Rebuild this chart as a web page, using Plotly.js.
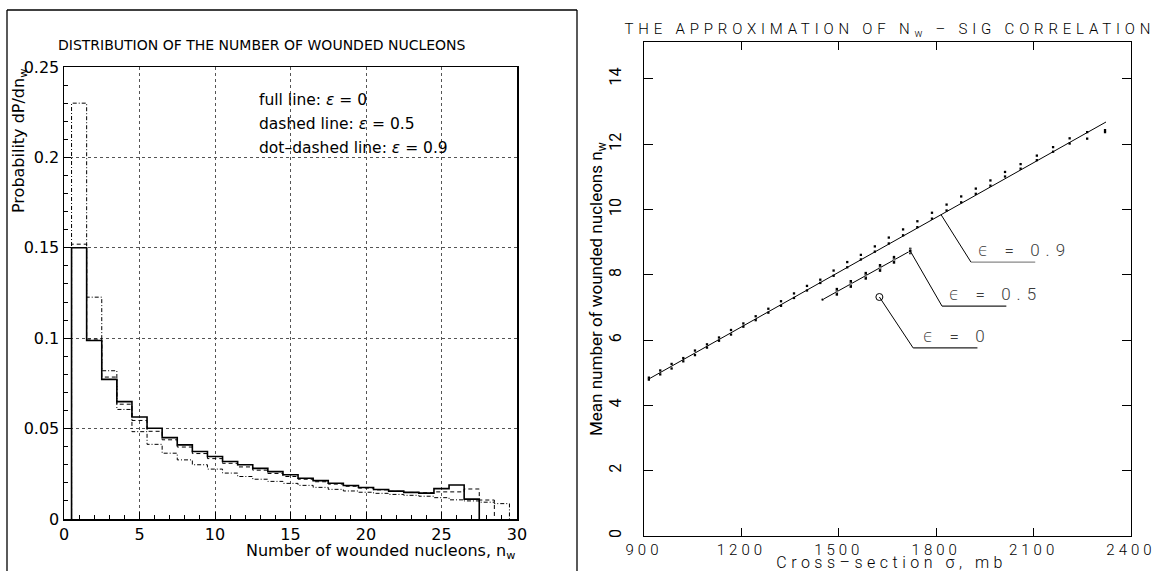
<!DOCTYPE html>
<html><head><meta charset="utf-8">
<script src="https://cdn.plot.ly/plotly-3.0.1.min.js"></script>
<style>
body{margin:0;background:#fff}
#chart{width:1155px;height:571px}
.annotation[data-index="1"] text{letter-spacing:4.8px}
.annotation[data-index="8"] text{letter-spacing:4.5px}
.annotation[data-index="9"] text,.annotation[data-index="10"] text,.annotation[data-index="11"] text{letter-spacing:6px}
.x2tick text{letter-spacing:4px}
</style>
</head><body><div id="chart"></div>
<script>
// ---------- Left panel: histogram of number of wounded nucleons ----------
const nBins = [1,2,3,4,5,6,7,8,9,10,11,12,13,14,15,16,17,18,19,20,21,22,23,24,25,26,27,28,29];
const probEps0 = [0.150,0.0987,0.0772,0.0649,0.0564,0.0502,0.0450,0.0410,0.0373,0.0346,0.0318,0.0300,0.0280,0.0262,0.0245,0.0225,0.0212,0.0198,0.0185,0.0174,0.0163,0.0154,0.0147,0.0143,0.0168,0.0188,0.0110];
const probEps05 = [0.152,0.0995,0.0785,0.0635,0.0545,0.0485,0.0438,0.0398,0.0362,0.0334,0.0308,0.0288,0.0270,0.0252,0.0235,0.0220,0.0206,0.0193,0.0181,0.0171,0.0161,0.0153,0.0147,0.0145,0.0150,0.0150,0.0166,0.0105];
const probEps09 = [0.230,0.1227,0.0820,0.0606,0.0483,0.0413,0.0364,0.0327,0.0300,0.0276,0.0254,0.0235,0.0220,0.0208,0.0197,0.0186,0.0175,0.0164,0.0155,0.0148,0.0142,0.0136,0.0131,0.0126,0.0118,0.0106,0.0100,0.0093,0.0085];
const xTickVals1 = [0,5,10,15,20,25,30];
const yTickVals1 = [0,0.05,0.1,0.15,0.2,0.25];
const yTickText1 = ['0','0.05','0.1','0.15','0.2','0.25'];

// ---------- Right panel: N_w vs cross-section ----------
const sigEps09 = [915,950,985,1021,1057,1094,1131,1168,1206,1244,1283,1322,1362,1402,1443,1484,1526,1568,1611,1654,1698,1742,1787,1832,1877,1922,1967,2012,2060,2110,2160,2211,2265,2320];
const nwEps09  = [4.82,5.01,5.20,5.40,5.61,5.82,6.03,6.24,6.46,6.67,6.90,7.12,7.36,7.59,7.80,8.05,8.31,8.54,8.79,9.05,9.30,9.55,9.81,10.06,10.31,10.56,10.81,11.08,11.32,11.58,11.84,12.10,12.27,12.40];
const errEps09 = [0.03,0.06,0.07,0.05,0.07,0.05,0.05,0.07,0.05,0.06,0.06,0.07,0.07,0.07,0.05,0.08,0.08,0.07,0.08,0.09,0.09,0.09,0.09,0.09,0.09,0.08,0.08,0.07,0.07,0.07,0.07,0.08,0.10,0.03];
const fitEps09Sig = [915,2323];
const fitEps09Nw  = [4.81,12.68];

const sigEps05 = [1450,1494,1537,1583,1627,1670,1720];
const nwEps05  = [7.24,7.48,7.72,7.97,8.21,8.46,8.73];
const errEps05 = [0.03,0.12,0.12,0.12,0.12,0.12,0.10];
const fitEps05Sig = [1450,1720];
const fitEps05Nw  = [7.24,8.73];

const sigEps0 = [1625];
const nwEps0  = [7.32];

const xTickVals2 = [900,1200,1500,1800,2100,2400];
const yTickVals2 = [0,2,4,6,8,10,12,14];

// ---------- helpers ----------
const W = 1155, H = 571;
const px = v => v / W;
const py = v => 1 - v / H;

function stepXY(vals){
  const x=[nBins[0]-0.5], y=[0];
  vals.forEach((v,i)=>{ x.push(nBins[i]-0.5); y.push(v); });
  x.push(nBins[vals.length-1]+0.5); y.push(0);
  return {x,y};
}
function fitAt(sig){
  return fitEps09Nw[0] + (sig-fitEps09Sig[0])*(fitEps09Nw[1]-fitEps09Nw[0])/(fitEps09Sig[1]-fitEps09Sig[0]);
}

const h0 = stepXY(probEps0), h05 = stepXY(probEps05), h09 = stepXY(probEps09);

const traces = [
  {x:h09.x, y:h09.y, xaxis:'x', yaxis:'y', mode:'lines', line:{shape:'hv', color:'#000', width:1, dash:'1px,2px,4px,2px'}, hoverinfo:'skip'},
  {x:h05.x, y:h05.y, xaxis:'x', yaxis:'y', mode:'lines', line:{shape:'hv', color:'#000', width:1, dash:'4px,3px'}, hoverinfo:'skip'},
  {x:h0.x,  y:h0.y,  xaxis:'x', yaxis:'y', mode:'lines', line:{shape:'hv', color:'#000', width:1.6}, hoverinfo:'skip'},

  {x:fitEps09Sig, y:fitEps09Nw, xaxis:'x2', yaxis:'y2', mode:'lines', line:{color:'#000', width:1}, hoverinfo:'skip'},
  {x:sigEps09, y:nwEps09.map((v,i)=>v+errEps09[i]), xaxis:'x2', yaxis:'y2', mode:'markers', marker:{symbol:'square', size:2.3, color:'#000'}, hoverinfo:'skip'},
  {x:sigEps09, y:nwEps09.map((v,i)=>v-errEps09[i]), xaxis:'x2', yaxis:'y2', mode:'markers', marker:{symbol:'square', size:2.3, color:'#000'}, hoverinfo:'skip'},
  {x:fitEps05Sig, y:fitEps05Nw, xaxis:'x2', yaxis:'y2', mode:'lines', line:{color:'#000', width:1}, hoverinfo:'skip'},
  {x:sigEps05, y:nwEps05, xaxis:'x2', yaxis:'y2', mode:'markers', marker:{size:[3,2,2,2,2,2,4], color:'#000'},
   error_y:{type:'data', array:errEps05, visible:true, thickness:2.4, width:0, color:'#000'}, hoverinfo:'skip'},
  {x:sigEps0, y:nwEps0, xaxis:'x2', yaxis:'y2', mode:'markers', marker:{symbol:'circle-open', size:7, color:'#000', line:{width:1}}, hoverinfo:'skip'}
];

// leader lines for the epsilon labels (anchored on data)
const leaders = [
  {ax:1815, ay:fitAt(1815), text:'ϵ = 0.9', color:'#888', dl:157},
  {ax:sigEps05[sigEps05.length-1], ay:nwEps05[nwEps05.length-1], text:'ϵ = 0.5', color:'#222', dl:157},
  {ax:sigEps0[0], ay:nwEps0[0], text:'ϵ = 0', color:'#222', dl:125}
];
const elbowOff = [[92,-1.45],[98,-1.69],[104,-1.56]];
const labelAnn = [];
leaders.forEach((L,i)=>{
  const ex = L.ax + elbowOff[i][0], ey = L.ay + elbowOff[i][1];
  traces.push({x:[L.ax, ex], y:[L.ay, ey], xaxis:'x2', yaxis:'y2', mode:'lines', line:{color:'#000', width:1}, hoverinfo:'skip'});
  traces.push({x:[ex, ex+198], y:[ey, ey], xaxis:'x2', yaxis:'y2', mode:'lines', line:{color:L.color, width:1.2}, hoverinfo:'skip'});
  labelAnn.push({xref:'x2', yref:'y2', x:ex+L.dl+9, y:ey+0.36, xanchor:'center', yanchor:'middle', text:L.text, showarrow:false,
    font:{family:'Roboto, DejaVu Sans', size:17, color:'#3a3a3a', weight:300}});
});

const leftFont = 'DejaVu Sans, Liberation Sans, sans-serif';
const rightFont = 'Roboto, Liberation Sans, sans-serif';

const annotations = [
  {xref:'paper', yref:'paper', x:px(262), y:py(45), text:'DISTRIBUTION OF THE NUMBER OF WOUNDED NUCLEONS', showarrow:false, xanchor:'center', yanchor:'middle', font:{family:leftFont, size:14, color:'#000'}},
  {xref:'paper', yref:'paper', x:px(890), y:py(30), text:'THE APPROXIMATION OF N<sub>w</sub> – SIG CORRELATION', showarrow:false, xanchor:'center', yanchor:'middle', font:{family:rightFont, size:15, color:'#000', weight:300}},
  {xref:'paper', yref:'paper', x:px(257), y:py(100), text:'full line: <i>ε</i> = 0', showarrow:false, xanchor:'left', align:'left', yanchor:'middle', font:{family:leftFont, size:15.5, color:'#000'}},
  {xref:'paper', yref:'paper', x:px(257), y:py(124), text:'dashed line: <i>ε</i> = 0.5', showarrow:false, xanchor:'left', align:'left', yanchor:'middle', font:{family:leftFont, size:15.5, color:'#000'}},
  {xref:'paper', yref:'paper', x:px(257), y:py(148), text:'dot–dashed line: <i>ε</i> = 0.9', showarrow:false, xanchor:'left', align:'left', yanchor:'middle', font:{family:leftFont, size:15.5, color:'#000'}},
  {xref:'paper', yref:'paper', x:px(19), y:py(141), text:'Probability dP/dn<sub>w</sub>', textangle:-90, showarrow:false, xanchor:'center', yanchor:'middle', font:{family:leftFont, size:16, color:'#000'}},
  {xref:'paper', yref:'paper', x:px(517), y:py(551), text:'Number of wounded nucleons, n<sub>w</sub>', showarrow:false, xanchor:'right', yanchor:'middle', font:{family:leftFont, size:16, color:'#000'}},
  {xref:'paper', yref:'paper', x:px(597), y:py(289), text:'Mean number of wounded nucleons n<sub>w</sub>', textangle:-90, showarrow:false, xanchor:'center', yanchor:'middle', font:{family:'Liberation Sans Narrow, Roboto, sans-serif', size:17, color:'#000'}},
  {xref:'paper', yref:'paper', x:px(891), y:py(574), text:'Cross–section σ, mb', showarrow:false, xanchor:'center', yanchor:'bottom', font:{family:rightFont, size:16, color:'#000', weight:300}}
].concat(labelAnn);

const frame = {type:'line', xref:'paper', yref:'paper', line:{color:'#000', width:1.3}};
const shapes = [
  Object.assign({}, frame, {x0:px(7), x1:px(577), y0:py(10), y1:py(10)}),
  Object.assign({}, frame, {x0:px(7), x1:px(7), y0:py(10), y1:py(571)}),
  Object.assign({}, frame, {x0:px(577), x1:px(577), y0:py(10), y1:py(571)})
];

const layout = {
  width:W, height:H, margin:{l:0,r:0,t:0,b:0}, paper_bgcolor:'#fff', plot_bgcolor:'#fff', showlegend:false,
  xaxis:{domain:[px(64), px(517)], range:[0,30], tickvals:xTickVals1, ticks:'inside', ticklen:7, tickcolor:'#000',
    minor:{dtick:1, tick0:0, ticks:'inside', ticklen:4, tickcolor:'#000', showgrid:false},
    showgrid:true, gridcolor:'#555', griddash:'dot', gridwidth:1, showline:true, linecolor:'#000', linewidth:1.5, mirror:true, zeroline:false,
    tickfont:{family:leftFont, size:16, color:'#000'}, anchor:'y'},
  yaxis:{domain:[py(519), py(67)], range:[0,0.25], tickvals:yTickVals1, ticktext:yTickText1, ticks:'inside', ticklen:7, tickcolor:'#000',
    minor:{dtick:0.01, tick0:0, ticks:'inside', ticklen:4, tickcolor:'#000', showgrid:false},
    showgrid:true, gridcolor:'#555', griddash:'dot', gridwidth:1, showline:true, linecolor:'#000', linewidth:1.5, mirror:true, zeroline:false,
    tickfont:{family:leftFont, size:16, color:'#000'}, anchor:'x'},
  xaxis2:{domain:[px(644), px(1131)], range:[900,2400], tickvals:xTickVals2, ticks:'inside', ticklen:8, tickcolor:'#000',
    showgrid:false, showline:true, linecolor:'#000', linewidth:1.3, mirror:'ticks', zeroline:false, ticklabeloverflow:'allow',
    tickfont:{family:rightFont, size:15, color:'#000', weight:300}, anchor:'y2'},
  yaxis2:{domain:[py(536), py(42)], range:[0,15.13], tickvals:yTickVals2, ticks:'inside', ticklen:9, tickcolor:'#000', tickangle:-90,
    showgrid:false, showline:true, linecolor:'#000', linewidth:1.3, mirror:'ticks', zeroline:false, ticklabelstandoff:15,
    tickfont:{family:'Liberation Sans Narrow, Roboto, sans-serif', size:16, color:'#000'}, anchor:'x2'},
  annotations:annotations,
  shapes:shapes
};

Plotly.newPlot('chart', traces, layout, {staticPlot:true, displayModeBar:false});
</script>
</body></html>
